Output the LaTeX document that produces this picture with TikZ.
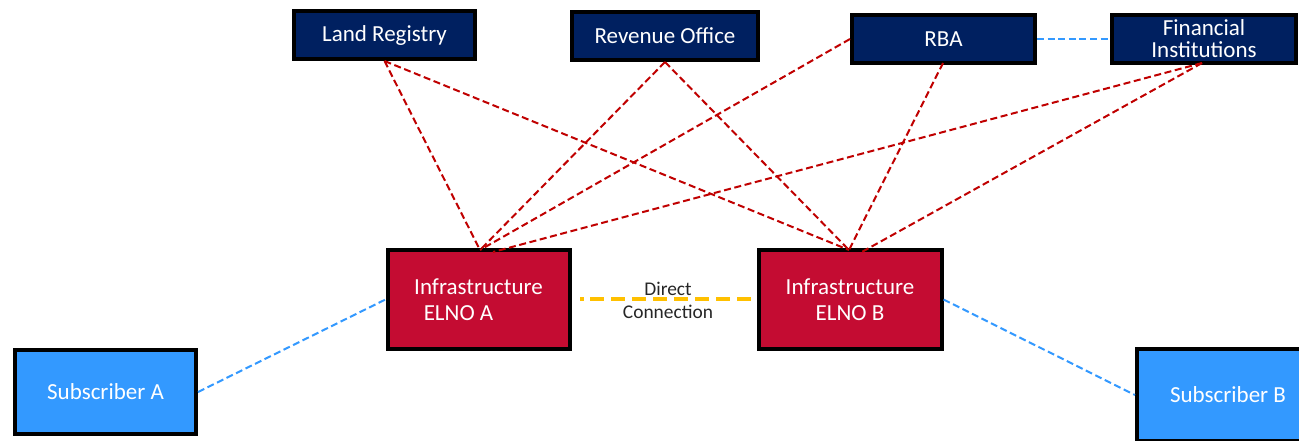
\documentclass[tikz,border=0pt]{standalone}
\usepackage{fontspec}
\setmainfont{Carlito}
\definecolor{navy}{RGB}{0,32,96}
\definecolor{elnored}{RGB}{196,12,50}
\definecolor{subblue}{RGB}{51,153,255}
\definecolor{linkred}{RGB}{192,0,0}
\definecolor{linkblue}{RGB}{51,153,255}
\definecolor{linkyellow}{RGB}{255,192,0}
\begin{document}
\begin{tikzpicture}[x=0.5pt,y=-0.5pt,
  box/.style={draw=black,line width=2pt,rectangle,inner sep=0pt,
    text=white,font=\fontsize{11.5}{13}\selectfont,align=center},
  agency/.style={box,fill=navy,minimum width=#1*0.5pt,minimum height=24pt},
  elno/.style={box,fill=elnored,minimum width=91pt,minimum height=49.5pt},
  subscriber/.style={box,fill=subblue,minimum width=90.5pt,minimum height=#1*0.5pt},
  redlink/.style={draw=linkred,line width=1pt,dash pattern=on 3.5pt off 1.8pt},
  bluelink/.style={draw=linkblue,line width=1pt,dash pattern=on 3.5pt off 1.8pt},
  directlink/.style={draw=linkyellow,line width=2pt,dash pattern=on 2pt off 3pt on 7pt off 3.5pt on 7pt off 3.5pt on 7pt off 3.5pt on 7pt off 3.5pt on 7pt off 3.5pt on 7pt off 3.5pt on 7pt off 3.5pt on 7pt off 3.5pt}
]
\useasboundingbox (0,0) rectangle (1299,440);
\clip (0,0) rectangle (1299,440);
\fill[white] (0,0) rectangle (1299,440);

% agencies along the top
\node[agency=181] (land) at (384.5,35) {Land Registry};
\node[agency=186] (revenue) at (665,36) {Revenue Office};
\node[agency=183] (rba) at (943.5,39) {RBA};
\node[agency=184] (fin) at (1204,39) {Financial\\[-2pt]Institutions};

% the two ELNO infrastructures
\node[elno] (elnoA) at (478.5,299.5) {Infrastructure\\\hspace*{-20pt}ELNO A\hspace*{0pt}};
\node[elno,minimum width=91.5pt] (elnoB) at (850,299.5) {Infrastructure\\ELNO B};

% subscribers
\node[subscriber=84] (subA) at (105.5,392) {Subscriber A};
\node[subscriber=92,minimum width=91pt] (subB) at (1228,395) {Subscriber B};

% attachment points
\coordinate (landS) at (land.south);
\coordinate (revS) at (revenue.south);
\coordinate (rbaW) at (rba.west);
\coordinate (rbaS) at (943,63);
\coordinate (finS) at (1202,63);
\coordinate (aTop) at (480,250);
\coordinate (aTop2) at (493,252);
\coordinate (bTop) at (849,250);
\coordinate (bTop2) at (860,253);

% agency links
\draw[redlink] (landS) -- (aTop);
\draw[redlink] (landS) -- (bTop);
\draw[redlink] (revS) -- (aTop);
\draw[redlink] (revS) -- (bTop);
\draw[redlink] (rbaW) -- (aTop);
\draw[redlink] (rbaS) -- (bTop);
\draw[redlink] (finS) -- (aTop2);
\draw[redlink] (finS) -- (bTop2);
\draw[bluelink] (rba.east) -- (fin.west);

% subscriber links
\draw[bluelink] (subA.east) -- (elnoA.west);
\draw[bluelink] (elnoB.east) -- (subB.west);

% direct connection
\coordinate (dA) at (580,299);
\coordinate (dB) at (752,299);
\draw[directlink] (dA) -- (dB);
\node[font=\fontsize{9.7}{11}\selectfont,text=black!85] (lblDirect) at (668,289) {Direct};
\node[font=\fontsize{9.7}{11}\selectfont,text=black!85] (lblConn) at (668,312) {Connection};
\end{tikzpicture}
\end{document}
